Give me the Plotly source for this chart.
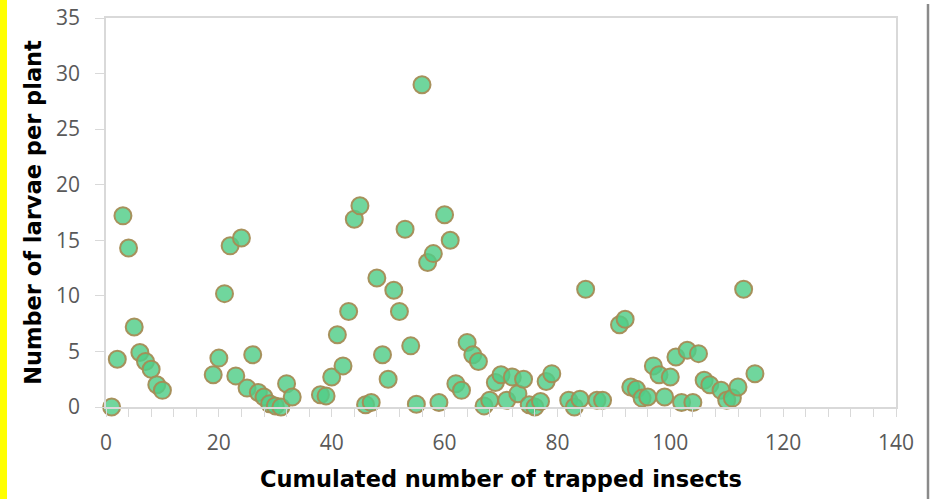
import plotly.graph_objects as go

insects = [1, 2, 3, 4, 5, 6, 7, 8, 9, 10,
           19, 20, 21, 22, 23, 24, 25, 26, 27, 28, 29, 30, 31, 32, 33,
           38, 39, 40, 41, 42, 43, 44, 45, 46, 47, 48, 49, 50, 51, 52, 53, 54, 55, 56, 57, 58, 59, 60,
           61, 62, 63, 64, 65, 66, 67, 68, 69, 70, 71, 72, 73, 74, 75, 76, 77, 78, 79,
           82, 83, 84, 85, 87, 88, 91, 92, 93, 94, 95, 96, 97, 98, 99, 100,
           101, 102, 103, 104, 105, 106, 107, 109, 110, 111, 112, 113, 115]
larvae = [0, 4.3, 17.2, 14.3, 7.2, 4.9, 4.1, 3.4, 2.0, 1.5,
          2.9, 4.4, 10.2, 14.5, 2.8, 15.2, 1.7, 4.7, 1.3, 0.9, 0.3, 0.1, 0, 2.1, 0.9,
          1.1, 1.0, 2.7, 6.5, 3.7, 8.6, 16.9, 18.1, 0.2, 0.4, 11.6, 4.7, 2.5, 10.5, 8.6, 16.0, 5.5, 0.25, 29.0, 13.0, 13.8, 0.4, 17.3,
          15.0, 2.1, 1.5, 5.8, 4.7, 4.1, 0.1, 0.6, 2.2, 2.9, 0.6, 2.7, 1.2, 2.5, 0.2, 0, 0.5, 2.3, 3.0,
          0.6, 0, 0.7, 10.6, 0.6, 0.6, 7.4, 7.9, 1.8, 1.6, 0.8, 0.9, 3.7, 2.9, 0.9, 2.7,
          4.5, 0.4, 5.1, 0.4, 4.8, 2.4, 2.0, 1.5, 0.6, 0.8, 1.8, 10.6, 3.0]

x_title = "Cumulated number of trapped insects"
y_title = "Number of larvae per plant"

W, H = 931, 499
L, R, T, B = 106, 35, 18, 92

fig = go.Figure()
fig.add_trace(go.Scatter(
    x=insects, y=larvae, mode="markers",
    marker=dict(size=17, color="rgba(80,205,135,0.82)",
                line=dict(color="rgba(165,140,85,0.95)", width=2)),
    cliponaxis=False, showlegend=False,
))

pw = W - L - R
ph = H - T - B
fig.update_layout(
    width=W, height=H,
    margin=dict(l=L, r=R, t=T, b=B, autoexpand=False),
    paper_bgcolor="white", plot_bgcolor="white",
    xaxis=dict(range=[0, 140], dtick=20, tick0=0, showgrid=False, zeroline=False,
               automargin=False,
               showline=True, linecolor="#d9d9d9", linewidth=1.5, mirror=True,
               ticks="outside", ticklen=8, tickcolor="#d9d9d9",
               ticklabelstandoff=8,
               minor=dict(dtick=4, tick0=0, ticks="outside", ticklen=8, tickcolor="#d9d9d9", showgrid=False),
               tickfont=dict(family="Open Sans", size=21, color="#595959"),
               title=dict(text="<b>" + x_title + "</b>", standoff=16,
                          font=dict(family="DejaVu Sans", size=22.5, color="black"))),
    yaxis=dict(range=[0, 35], dtick=5, showgrid=False, zeroline=False,
               automargin=False,
               showline=True, linecolor="#d9d9d9", linewidth=1.5, mirror=True,
               ticks="outside", ticklen=9, tickcolor="#d9d9d9",
               ticklabelstandoff=11,
               tickfont=dict(family="Open Sans", size=21, color="#595959"),
               title=dict(text="<b>" + y_title + "</b>", standoff=8,
                          font=dict(family="DejaVu Sans", size=22.5, color="black"))),
)

# yellow strip on the left edge and dark border on the right edge
fig.add_shape(type="rect", xref="paper", yref="paper",
              x0=-L / pw, x1=(7 - L) / pw, y0=-B / ph, y1=(H - B) / ph + 0.05,
              fillcolor="#ffff00", line=dict(width=0), layer="below")
fig.add_shape(type="line", xref="paper", yref="paper",
              x0=(928 - L) / pw, x1=(928 - L) / pw, y0=-B / ph, y1=(H - B - 4) / ph,
              line=dict(color="#8a8a8a", width=2.5))

fig.write_html("out.html", config={"displayModeBar": False},
               post_script="document.body.style.margin='0';")
